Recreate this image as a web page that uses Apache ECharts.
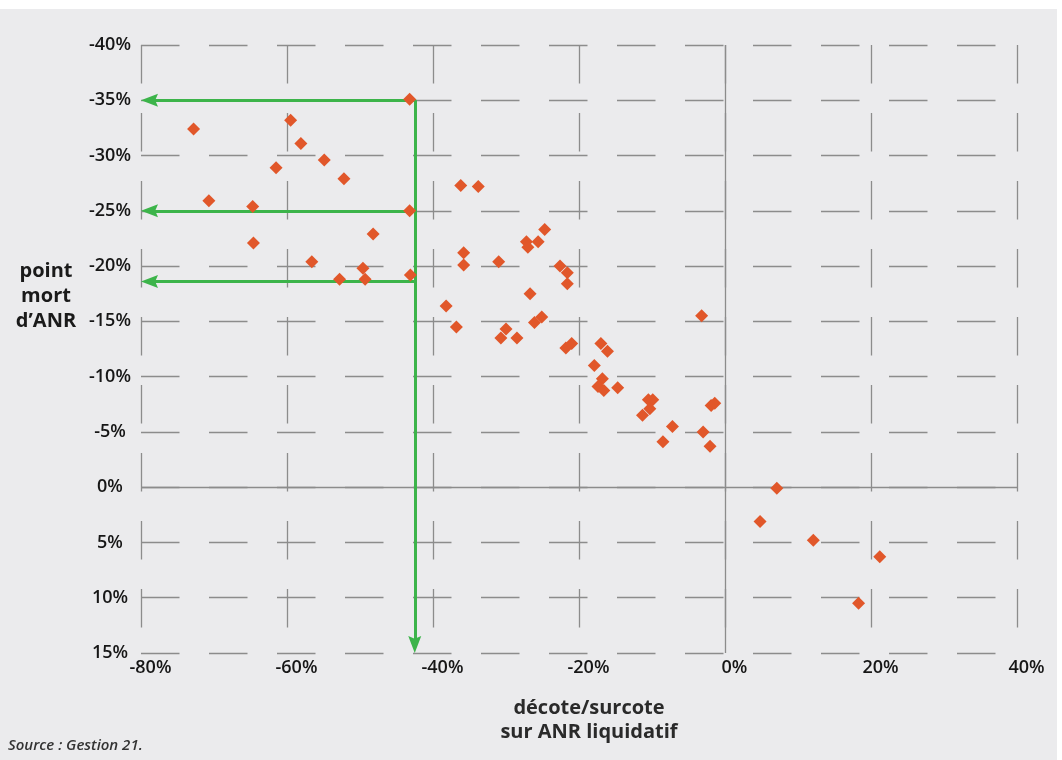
<!DOCTYPE html>
<html>
<head>
<meta charset="utf-8">
<script src="https://cdn.jsdelivr.net/npm/echarts@6/dist/echarts.min.js"></script>
<style>
  html, body { margin: 0; padding: 0; background: #ffffff; }
  #panel { position: absolute; left: 0; top: 9px; width: 1057px; height: 751px; background: #ebebed; }
  #chart { position: absolute; left: 0; top: 0; width: 1062px; height: 760px; }
</style>
</head>
<body>
<div id="panel"></div>
<div id="chart"></div>
<script>
// décote/surcote sur ANR liquidatif (%)
const decote = [
  -72.8, -59.5, -58.1, -54.9, -61.5, -52.2, -70.7, -64.7, -43.2, -64.6, -48.2, -56.6, -49.6, -52.8, -49.3, -43.1, -43.2,
  -36.2, -33.8, -24.7, -27.2, -27.0, -25.6, -35.8, -35.8, -31.0, -22.6, -21.6, -21.6, -26.7, -38.2, -36.8, -30.0, -30.7,
  -28.5, -26.1, -25.1, -21.8, -21.0, -17.0, -16.1, -17.9, -16.8, -3.2,
  -17.4, -16.6, -14.7, -10.5, -9.9, -10.3, -11.3, -7.2, -8.5, -3.0, -2.05, -1.9, -1.4,
  7.1, 4.8, 12.1, 21.2, 18.3
];
// point mort d'ANR (%)
const pointMort = [
  -32.4, -33.2, -31.1, -29.6, -28.9, -27.9, -25.9, -25.4, -25.0, -22.1, -22.9, -20.4, -19.8, -18.8, -18.8, -19.2, -35.1,
  -27.3, -27.2, -23.3, -22.2, -21.7, -22.2, -21.2, -20.1, -20.4, -20.0, -19.4, -18.4, -17.5, -16.4, -14.5, -14.3, -13.5,
  -13.5, -14.9, -15.4, -12.6, -13.0, -13.0, -12.3, -11.0, -9.8, -15.5,
  -9.1, -8.75, -9.0, -7.9, -7.9, -7.1, -6.5, -5.5, -4.1, -5.0, -3.7, -7.4, -7.6,
  0.1, 3.1, 4.8, 6.3, 10.5
];
// axis ranges / ticks
const xTicks = [-80, -60, -40, -20, 0, 20, 40];
const yTicks = [-40, -35, -30, -25, -20, -15, -10, -5, 0, 5, 10, 15];
// green reading guides
const guideX = -42.5;
const guideLevels = [-35, -25, -18.6];

const GREEN = '#3cb44a';
const GRIDC = '#8c8c8c';
const FONT = 'Open Sans';

const points = decote.map((x, i) => [x, pointMort[i]]);

const chart = echarts.init(document.getElementById('chart'), null, { renderer: 'canvas' });

// arrow tip offsets (half arrow length in data units)
const xPerPx = (xTicks[xTicks.length - 1] - xTicks[0]) / 876;
const yPerPx = (yTicks[yTicks.length - 1] - yTicks[0]) / 608;
const arrowLen = 17, arrowW = 13;
const arrowPath = 'path://M6.5,0 L13,17 L6.5,14.2 L0,17 Z';

const guideData = [];
guideData.push([
  { coord: [guideX, guideLevels[0]], symbol: 'none' },
  { coord: [guideX, yTicks[yTicks.length - 1] - arrowLen / 2 * yPerPx], symbol: arrowPath, symbolSize: [arrowW, arrowLen] }
]);
guideLevels.forEach(v => {
  guideData.push([
    { coord: [guideX + 0.2, v], symbol: 'none' },
    { coord: [xTicks[0] + arrowLen / 2 * xPerPx, v], symbol: arrowPath, symbolSize: [arrowW, arrowLen] }
  ]);
});

const option = {
  backgroundColor: 'transparent',
  animation: false,
  grid: { left: 141, top: 45, width: 876, height: 608, containLabel: false },
  xAxis: {
    type: 'value',
    min: xTicks[0], max: xTicks[xTicks.length - 1], interval: 20,
    axisLine: { show: false },
    axisTick: { show: false },
    axisLabel: {
      formatter: '{value}%',
      fontFamily: FONT, fontWeight: 600, fontSize: 18, color: '#161616',
      margin: 6, padding: [0, 0, 0, 19]
    },
    splitLine: { show: true, lineStyle: { color: GRIDC, width: 1.3, type: [38.5, 29.5] } }
  },
  yAxis: {
    type: 'value',
    inverse: true,
    min: yTicks[0], max: yTicks[yTicks.length - 1], interval: 5,
    axisLine: { show: false },
    axisTick: { show: false },
    axisLabel: {
      formatter: '{value}%',
      fontFamily: FONT, fontWeight: 600, fontSize: 18, color: '#161616',
      align: 'center', margin: 31
    },
    splitLine: { show: true, lineStyle: { color: GRIDC, width: 1.3, type: [38.5, 29.5] } }
  },
  graphic: [
    {
      type: 'text',
      style: {
        text: 'point\nmort\nd\u2019ANR', x: 46, y: 296,
        font: 'bold 20px "Open Sans"', fill: '#1a1a1a',
        align: 'center', verticalAlign: 'middle', lineHeight: 25
      }
    },
    {
      type: 'text',
      style: {
        text: 'd\u00e9cote/surcote\nsur ANR liquidatif', x: 589, y: 720,
        font: 'bold 20px "Open Sans"', fill: '#2a2a2a',
        align: 'center', verticalAlign: 'middle', lineHeight: 24
      }
    },
    {
      type: 'text',
      style: {
        text: 'Source : Gestion 21.', x: 8, y: 746,
        font: 'italic 600 15px "Open Sans"', fill: '#333333',
        align: 'left', verticalAlign: 'middle'
      }
    }
  ],
  series: [
    {
      type: 'line',
      data: [],
      silent: true,
      z: 3,
      markLine: {
        silent: true,
        symbol: 'none',
        label: { show: false },
        lineStyle: { color: GRIDC, width: 1.3, type: 'solid' },
        data: [{ xAxis: 0 }, { yAxis: 0 }],
        animation: false
      }
    },
    {
      type: 'line',
      data: [],
      silent: true,
      z: 4,
      markLine: {
        silent: true,
        label: { show: false },
        lineStyle: { color: GREEN, width: 3, type: 'solid' },
        itemStyle: { color: GREEN },
        data: guideData,
        animation: false
      }
    },
    {
      type: 'scatter',
      z: 5,
      data: points,
      symbol: 'diamond',
      symbolSize: 13,
      itemStyle: { color: '#e1572a', opacity: 1 }
    }
  ]
};
chart.setOption(option);
</script>
</body>
</html>
